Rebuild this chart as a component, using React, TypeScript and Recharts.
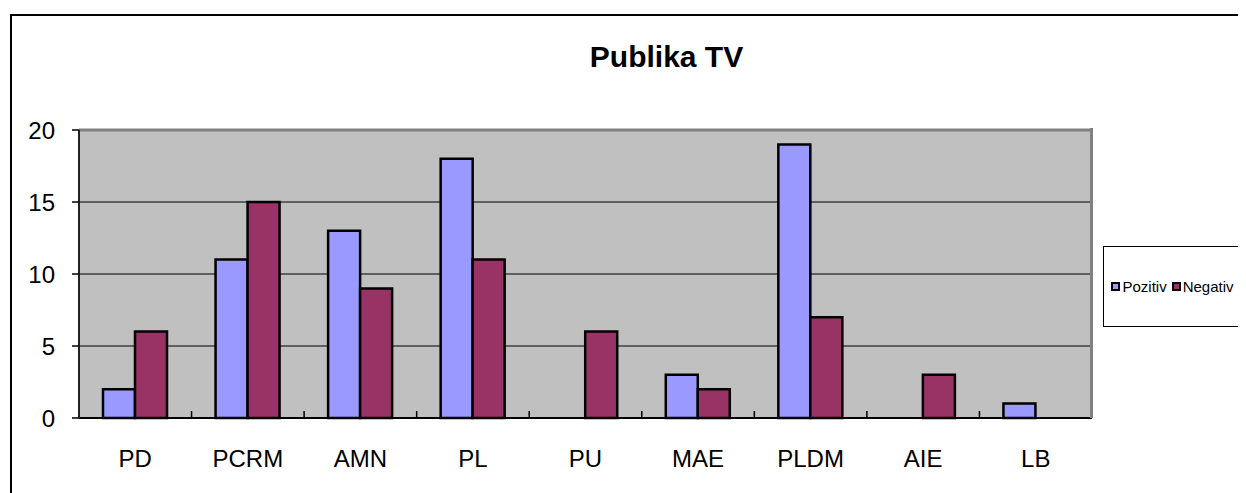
import React from 'react';
import { BarChart, Bar, XAxis, YAxis, CartesianGrid, ReferenceLine } from 'recharts';

const categories = ['PD', 'PCRM', 'AMN', 'PL', 'PU', 'MAE', 'PLDM', 'AIE', 'LB'];
const pozitiv = [2, 11, 13, 18, 0, 3, 19, 0, 1];
const negativ = [6, 15, 9, 11, 6, 2, 7, 3, 0];
const yTicks = [0, 5, 10, 15, 20];

const series = [
    { key: 'pozitiv', name: 'Pozitiv', color: '#9999FF' },
    { key: 'negativ', name: 'Negativ', color: '#993366' },
];

const data = categories.map((name, i) => ({ name, pozitiv: pozitiv[i], negativ: negativ[i] }));

const font = '"Liberation Sans", Arial, sans-serif';
const labelGap = 32;

// category label plus the small upward tick on the right edge of its band
const CatTick = (props: any) => {
    const { x, y, payload } = props;
    const half = payload?.offset ?? 0;
    const axisY = y - labelGap;
    return (
        <g>
            <text x={x} y={y} dy="0.71em" textAnchor="middle" fill="#000" fontSize={24} fontFamily={font}>
                {payload.value}
            </text>
            {half > 0 && (
                <line x1={x + half} x2={x + half} y1={axisY} y2={axisY - 7} stroke="#000" strokeWidth={1.5} />
            )}
        </g>
    );
};

const App = () => {
    return (
        <div style={{ position: 'relative', width: 1238, height: 485, overflow: 'hidden', fontFamily: font }}>
            <div style={{ position: 'absolute', left: 2, top: 6, width: 1400, height: 700, border: '2px solid #000' }} />
            <div style={{ position: 'absolute', left: 0, width: 1317, top: 34, textAlign: 'center', fontSize: 30, fontWeight: 'bold', lineHeight: '30px' }}>
                Publika TV
            </div>
            <div style={{ position: 'absolute', left: 0, top: 0 }}>
                <BarChart
                    width={1238}
                    height={485}
                    data={data}
                    margin={{ top: 122, right: 154, left: 0, bottom: 15 }}
                    barCategoryGap={24}
                    barGap={0}
                >
                    <CartesianGrid vertical={false} fill="#C0C0C0" stroke="#000" strokeWidth={1} />
                    <XAxis
                        dataKey="name"
                        height={60}
                        tickLine={false}
                        tickSize={0}
                        tickMargin={labelGap}
                        axisLine={{ stroke: '#000', strokeWidth: 2 }}
                        tick={<CatTick />}
                        interval={0}
                    />
                    <YAxis
                        domain={[0, 20]}
                        ticks={yTicks}
                        width={71}
                        tickSize={7}
                        tickMargin={17}
                        tickLine={{ stroke: '#000', strokeWidth: 1.5 }}
                        axisLine={{ stroke: '#222', strokeWidth: 2 }}
                        tick={{ fill: '#000', fontSize: 24, fontFamily: font }}
                    />
                    <ReferenceLine y={20} stroke="#808080" strokeWidth={3} />
                    {series.map((s) => (
                        <Bar
                            key={s.key}
                            dataKey={s.key}
                            name={s.name}
                            fill={s.color}
                            stroke="#000"
                            strokeWidth={2.5}
                            isAnimationActive={false}
                        />
                    ))}
                </BarChart>
            </div>
            {/* right border of the plot area */}
            <div style={{ position: 'absolute', left: 1082, top: 120, width: 3, height: 290, background: '#808080' }} />
            <div
                style={{
                    position: 'absolute',
                    left: 1095,
                    top: 238,
                    width: 137,
                    height: 79,
                    border: '1px solid #000',
                    background: '#fff',
                    display: 'flex',
                    alignItems: 'center',
                    justifyContent: 'center',
                    fontSize: 15,
                    gap: 5,
                }}
            >
                {series.map((s) => (
                    <span key={s.key} style={{ display: 'flex', alignItems: 'center' }}>
                        <span style={{ width: 5, height: 5, background: s.color, border: '2px solid #000', marginRight: 2 }} />
                        {s.name}
                    </span>
                ))}
            </div>
        </div>
    );
};

export default App;
